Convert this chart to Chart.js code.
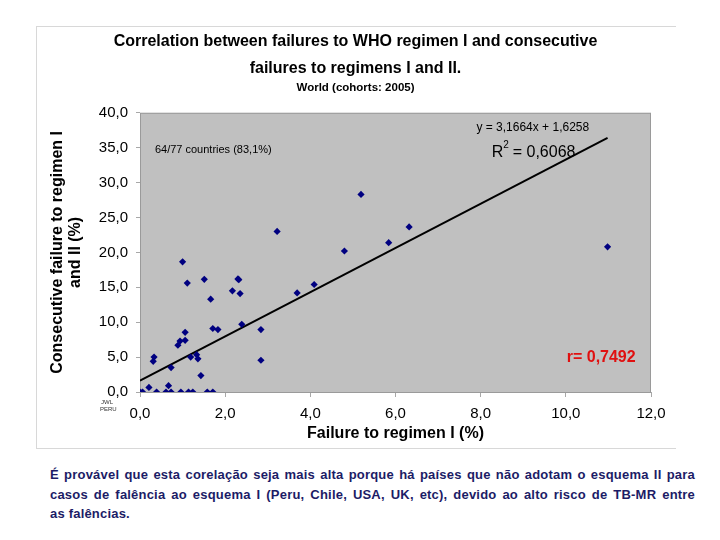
<!DOCTYPE html>
<html>
<head>
<meta charset="utf-8">
<script src="https://cdn.jsdelivr.net/npm/chart.js@4"></script>
<style>
  html, body { margin: 0; padding: 0; background: #fff; }
  body { width: 720px; height: 540px; position: relative; overflow: hidden; font-family: "Liberation Sans", Arial, sans-serif; }
  #box { position: absolute; left: 36px; top: 26px; width: 640px; height: 423px; border-top: 1px solid #d8d8d8; border-left: 1px solid #d8d8d8; border-bottom: 1px solid #d8d8d8; box-sizing: border-box; }
  #chart { position: absolute; left: 36px; top: 26px; }
  #note { position: absolute; left: 50px; top: 465px; width: 645px; font-size: 13px; font-weight: bold; color: #1c1c66; line-height: 19.5px; letter-spacing: 0.2px; }
  #note div { text-align: justify; text-align-last: justify; white-space: nowrap; }
  #note div:last-child { text-align-last: left; }
</style>
</head>
<body>
<div id="box"></div>
<canvas id="chart" width="640" height="423"></canvas>
<div id="note">
  <div>É provável que esta corelação seja mais alta porque há países que não adotam o esquema II para</div>
  <div>casos de falência ao esquema I (Peru, Chile, USA, UK, etc), devido ao alto risco de TB-MR entre</div>
  <div>as falências.</div>
</div>
<script>
// Failure to regimen I (%) vs consecutive failure to regimens I and II (%)
const failI = [0.00, 0.06, 0.21, 0.31, 0.33, 0.39, 0.61, 0.67, 0.73, 0.73, 0.89, 0.94, 0.96, 1.00, 1.06,
  1.06, 1.11, 1.14, 1.19, 1.24, 1.33, 1.36, 1.43, 1.51, 1.58, 1.66, 1.71, 1.71, 1.83, 2.17, 2.30,
  2.32, 2.35, 2.39, 2.84, 2.84, 3.22, 3.69, 4.09, 4.80, 5.19, 5.84, 6.32, 10.98];
const failII = [0, 0, 0.66, 4.4, 5.0, 0, 0, 0.9, 0, 3.5, 6.7, 7.3, 0, 18.65, 8.55,
  7.4, 15.6, 0, 5.0, 0, 5.35, 4.75, 2.35, 16.15, 0, 13.3, 0, 9.1, 8.95, 14.5, 16.2,
  16.1, 14.1, 9.7, 8.95, 4.55, 23.0, 14.2, 15.4, 20.2, 28.3, 21.4, 23.65, 20.8];

// linear trend from the chart
const slope = 3.1664, intercept = 1.6258;
const trendX = [0, 10.98];

const titleLines = ['Correlation between failures to WHO regimen I and consecutive', 'failures to regimens I and II.'];
const subTitle = 'World (cohorts: 2005)';

const fmt = v => v.toFixed(1).replace('.', ',');
const FONT = '"Liberation Sans", Arial, sans-serif';

const pts = failI.map((x, i) => ({ x: x, y: failII[i] }));
const trend = trendX.map(x => ({ x: x, y: slope * x + intercept }));

// grey plot area + border
const plotBg = {
  id: 'plotBg',
  beforeDatasetsDraw(chart) {
    const a = chart.chartArea, c = chart.ctx;
    c.save();
    c.fillStyle = '#c0c0c0';
    c.fillRect(a.left, a.top, a.right - a.left, a.bottom - a.top);
    c.strokeStyle = '#9a9a9a';
    c.lineWidth = 1;
    c.strokeRect(a.left + 0.5, a.top + 0.5, a.right - a.left - 1, a.bottom - a.top);
    c.restore();
  }
};

// text boxes placed in data units
const notes = {
  id: 'notes',
  afterDatasetsDraw(chart) {
    const c = chart.ctx, xs = chart.scales.x, ys = chart.scales.y;
    const px = v => xs.getPixelForValue(v), py = v => ys.getPixelForValue(v);
    c.save();
    c.textBaseline = 'middle';
    c.fillStyle = '#000';
    c.textAlign = 'left';
    c.font = '11px ' + FONT;
    c.fillText('64/77 countries (83,1%)', px(0.35), py(34.7));
    c.font = '12px ' + FONT;
    c.fillText('y = 3,1664x + 1,6258', px(7.9), py(37.9));
    c.font = '16px ' + FONT;
    const rx = px(8.26), ry = py(34.3);
    c.fillText('R', rx, ry);
    const w = c.measureText('R').width;
    c.font = '10px ' + FONT;
    c.fillText('2', rx + w, ry - 7);
    c.font = '16px ' + FONT;
    c.fillText(' = 0,6068', rx + w + 5, ry);
    c.fillStyle = '#e01010';
    c.font = 'bold 16px ' + FONT;
    c.textAlign = 'right';
    c.fillText('r= 0,7492', px(11.64), py(4.9));
    // tiny labels under the origin
    c.fillStyle = '#333';
    c.font = '6px ' + FONT;
    c.textAlign = 'left';
    c.fillText('JWL', 65, 376);
    c.fillText('PERU', 64, 383);
    c.restore();
  }
};

new Chart(document.getElementById('chart'), {
  type: 'scatter',
  data: {
    datasets: [
      { data: pts, pointStyle: 'rectRot', pointRadius: 3.6, backgroundColor: '#000080', borderColor: '#000080', borderWidth: 0 },
      { data: trend, showLine: true, borderColor: '#000', borderWidth: 2, pointRadius: 0, fill: false }
    ]
  },
  plugins: [plotBg, notes],
  options: {
    responsive: false, animation: false,
    layout: { padding: { left: 12, right: 13, top: 0, bottom: 6 } },
    plugins: {
      legend: { display: false },
      tooltip: { enabled: false },
      title: { display: true, text: titleLines, color: '#000', font: { family: FONT, size: 16, weight: 'bold', lineHeight: 1.63 }, padding: { top: 3, bottom: 0 } },
      subtitle: { display: true, text: subTitle, color: '#000', font: { family: FONT, size: 11.5, weight: 'bold', lineHeight: 1.1 }, padding: { top: 0, bottom: 19 } }
    },
    scales: {
      x: {
        min: 0, max: 12,
        ticks: { stepSize: 2, color: '#000', padding: 8, font: { family: FONT, size: 15 }, callback: v => fmt(v) },
        grid: { drawOnChartArea: false, tickLength: 5, color: '#a8a8a8' },
        border: { display: false },
        title: { display: true, text: 'Failure to regimen I (%)', color: '#000', font: { family: FONT, size: 16, weight: 'bold' }, padding: { top: 0, bottom: 0 } },
        afterFit: s => { s.height = 51; }
      },
      y: {
        min: 0, max: 40,
        ticks: { stepSize: 5, color: '#000', padding: 8, font: { family: FONT, size: 15 }, callback: v => fmt(v) },
        grid: { drawOnChartArea: false, tickLength: 4, color: '#a8a8a8' },
        border: { display: false },
        title: { display: true, text: ['Consecutive failure to regimen I', 'and II (%)'], color: '#000', font: { family: FONT, size: 16, weight: 'bold', lineHeight: 1.15 }, padding: { top: 0, bottom: 4 } },
        afterFit: s => { s.width = 92; }
      },
      // empty right-hand axis, only keeps the plot edge where the reference has it
      yr: {
        position: 'right', min: 0, max: 40,
        ticks: { display: false }, grid: { display: false }, border: { display: false },
        afterFit: s => { s.width = 12; }
      }
    }
  }
});
</script>
</body>
</html>
